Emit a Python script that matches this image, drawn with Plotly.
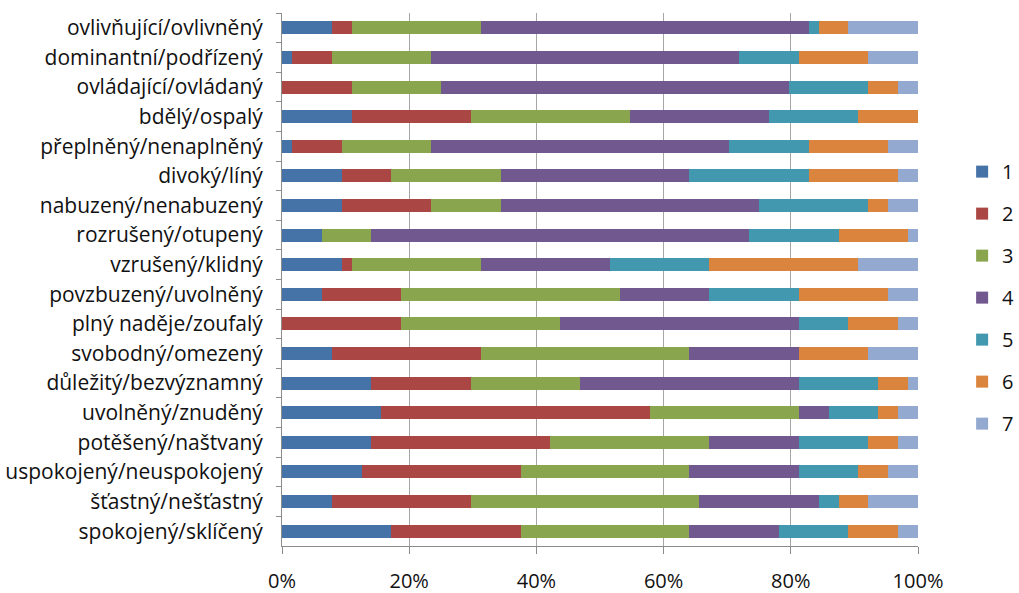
import plotly.graph_objects as go

categories = [
    "ovlivňující/ovlivněný", "dominantní/podřízený", "ovládající/ovládaný",
    "bdělý/ospalý", "přeplněný/nenaplněný", "divoký/líný",
    "nabuzený/nenabuzený", "rozrušený/otupený", "vzrušený/klidný",
    "povzbuzený/uvolněný", "plný naděje/zoufalý", "svobodný/omezený",
    "důležitý/bezvýznamný", "uvolněný/znuděný", "potěšený/naštvaný",
    "uspokojený/neuspokojený", "šťastný/nešťastný", "spokojený/sklíčený",
]

# response counts per scale point (normalised to 100 % per row)
s1 = [5, 1, 0, 7, 1, 6, 6, 4, 6, 4, 0, 5, 9, 10, 9, 8, 5, 11]
s2 = [2, 4, 7, 12, 5, 5, 9, 0, 1, 8, 12, 15, 10, 27, 18, 16, 14, 13]
s3 = [13, 10, 9, 16, 9, 11, 7, 5, 13, 22, 16, 21, 11, 15, 16, 17, 23, 17]
s4 = [33, 31, 35, 14, 30, 19, 26, 38, 13, 9, 24, 11, 22, 3, 9, 11, 12, 9]
s5 = [1, 6, 8, 9, 8, 12, 11, 9, 10, 9, 5, 0, 8, 5, 7, 6, 2, 7]
s6 = [3, 7, 3, 6, 8, 9, 2, 7, 15, 9, 5, 7, 3, 2, 3, 3, 3, 5]
s7 = [7, 5, 2, 0, 3, 2, 3, 1, 6, 3, 2, 5, 1, 2, 2, 3, 5, 2]

series_names = ["1", "2", "3", "4", "5", "6", "7"]
series_values = [s1, s2, s3, s4, s5, s6, s7]
colors = ["#4572A7", "#AA4643", "#89A54E", "#71588F", "#4198AF", "#DB843D", "#93A9CF"]

x_ticks = [0, 20, 40, 60, 80, 100]
x_ticklabels = ["0%", "20%", "40%", "60%", "80%", "100%"]

FONT = "Open Sans"

fig = go.Figure()
for name, vals, col in zip(series_names, series_values, colors):
    fig.add_trace(go.Bar(
        y=categories, x=vals, name=name, orientation="h",
        marker=dict(color=col, line=dict(width=0)),
        legendgroup=name,
    ))

fig.update_layout(
    barmode="stack",
    barnorm="percent",
    bargap=0.56,
    width=1019, height=593,
    margin=dict(l=282, r=101, t=13, b=47, autoexpand=False),
    paper_bgcolor="white",
    plot_bgcolor="white",
    font=dict(family=FONT, size=21, color="#111111"),
    showlegend=True,
    legend=dict(
        x=1.159, xanchor="right", y=0.466, yanchor="middle",
        traceorder="grouped", tracegroupgap=13,
        font=dict(family=FONT, size=20, color="#111111"),
        bgcolor="rgba(0,0,0,0)",
    ),
    xaxis=dict(
        range=[0, 100], tickvals=x_ticks, ticktext=x_ticklabels,
        showgrid=True, gridcolor="#a6a6a6", gridwidth=1,
        showline=True, linecolor="#8c8c8c", linewidth=1,
        ticks="outside", ticklen=7, tickcolor="#8c8c8c",
        zeroline=False, ticklabelstandoff=10,
        tickfont=dict(family=FONT, size=20, color="#111111"),
    ),
    yaxis=dict(
        autorange="reversed", type="category",
        showline=True, linecolor="#8c8c8c", linewidth=1,
        ticks="outside", ticklen=5, tickcolor="#8c8c8c",
        tickson="boundaries", showgrid=False,
        ticklabelstandoff=14,
        tickfont=dict(family=FONT, size=21, color="#111111"),
    ),
)

fig.write_html(
    "out.html",
    config={"displayModeBar": False},
    post_script="document.body.style.margin='0px';document.body.style.overflow='hidden';",
)
